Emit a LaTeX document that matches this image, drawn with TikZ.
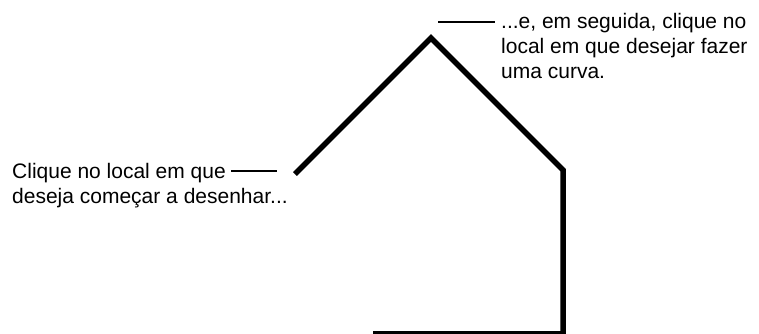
\documentclass[tikz,border=0pt]{standalone}
\usepackage{fontspec}
\setmainfont{Liberation Sans}
\begin{document}
\begin{tikzpicture}[x=1pt,y=-1pt,
  lbl/.style={inner sep=0pt, align=left, anchor=base west, font=\fontsize{21}{25}\selectfont},
  stroke/.style={line width=5.5pt, line join=miter, line cap=butt},
  leader/.style={line width=1.2pt}]
\useasboundingbox (0,0) rectangle (759,333);
\coordinate (s) at (295,174);
\coordinate (p) at (431,38);
\coordinate (c) at (563,170);
\coordinate (b) at (563,333.8);
\coordinate (e) at (373,333.8);
\begin{scope}
\clip (0,0) rectangle (759,333);
\draw[stroke] (s) -- (p) -- (c) -- (b) -- (e);
\end{scope}
\node[lbl] (left) at (12,203) {Clique no local em que\\deseja começar a desenhar...};
\node[lbl] (top) at (501,78) {...e, em seguida, clique no\\local em que desejar fazer\\uma curva.};
\coordinate (l1) at (231,171);
\coordinate (l2) at (277,171);
\coordinate (t1) at (438,22);
\coordinate (t2) at (495,22);
\draw[leader] (l1) -- (l2);
\draw[leader] (t1) -- (t2);
\end{tikzpicture}
\end{document}
